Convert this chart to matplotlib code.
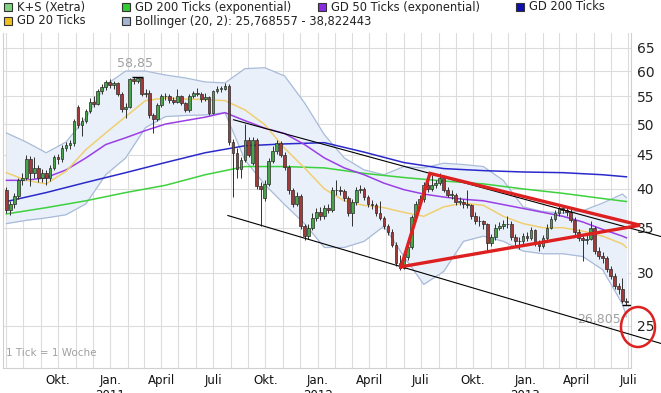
import numpy as np
import pandas as pd
import matplotlib
matplotlib.use("Agg")
import matplotlib.pyplot as plt
import matplotlib.dates as mdates
from matplotlib.patches import Rectangle, Ellipse
from matplotlib.ticker import NullLocator

# weekly candles (K+S, Xetra), first week and values
first_week = "2010-07-02"
first_open = 39.8
open_gaps = {18: 53.0, 62: 43.7, 65: 38.8}

closes = [37.2, 38.0, 39.0, 41.2, 41.6, 44.3, 42.3, 43.0, 41.6, 42.2,
          41.5, 43.0, 44.6, 44.3, 46.0, 46.5, 46.8, 50.5, 49.8, 50.5,
          52.3, 54.0, 53.6, 56.0, 56.8, 57.8, 57.2, 57.5, 55.5, 52.6,
          53.0, 58.3, 58.0, 58.6, 55.5, 55.7, 51.5, 50.8, 53.4, 55.0,
          55.0, 54.3, 54.0, 55.0, 53.7, 52.5, 55.0, 55.6, 55.5, 54.5,
          54.8, 52.0, 56.0, 56.5, 56.5, 57.0, 47.0, 45.2, 42.9, 44.2,
          47.4, 45.0, 47.4, 40.4, 40.0, 40.7, 44.0, 45.5, 46.8, 45.0,
          43.2, 39.8, 38.0, 39.0, 35.2, 34.0, 35.0, 36.2, 37.0, 36.5,
          37.5, 37.2, 39.8, 39.8, 39.7, 38.8, 36.8, 38.2, 39.8, 40.0,
          38.9, 38.0, 37.8, 36.8, 36.2, 35.2, 34.5, 33.0, 31.0, 30.5,
          31.6, 32.8, 36.3, 38.0, 38.6, 40.5, 40.0, 40.5, 40.8, 41.5,
          39.9, 39.2, 39.2, 38.3, 38.3, 38.0, 37.8, 36.5, 35.8, 35.8,
          35.4, 33.2, 33.9, 35.0, 35.2, 35.4, 35.5, 33.9, 33.4, 33.4,
          34.0, 33.8, 34.7, 33.2, 32.9, 33.8, 35.0, 36.1, 36.8, 37.5,
          37.2, 37.0, 36.0, 34.5, 33.8, 33.5, 33.7, 35.0, 32.3, 31.8,
          31.5, 30.4, 29.6, 28.6, 28.3, 27.2, 27.1]

highs = [40.2, 38.4, 39.4, 41.6, 42.3, 45.0, 44.8, 44.7, 43.4, 42.9,
         42.7, 43.4, 45.0, 45.1, 46.6, 47.0, 47.4, 50.9, 53.4, 51.2,
         52.7, 54.6, 55.1, 56.5, 57.3, 58.1, 58.4, 57.9, 57.8, 55.9,
         53.8, 58.6, 58.7, 58.85, 58.7, 56.4, 56.3, 52.0, 53.7, 55.4,
         55.6, 55.5, 54.8, 56.5, 55.3, 54.0, 55.4, 56.0, 56.6, 55.8,
         55.6, 55.1, 56.3, 57.0, 57.0, 57.5, 57.3, 47.5, 46.0, 44.7,
         50.0, 47.8, 47.9, 47.6, 41.0, 41.2, 44.5, 46.3, 47.4, 47.1,
         45.4, 43.5, 40.1, 39.6, 39.3, 35.5, 35.4, 36.8, 37.5, 37.6,
         37.9, 38.0, 40.2, 41.3, 40.4, 40.0, 39.0, 38.6, 40.2, 40.6,
         40.3, 39.2, 38.5, 38.1, 38.4, 36.5, 35.5, 34.8, 33.3, 31.9,
         32.0, 33.2, 36.6, 38.4, 39.2, 40.9, 41.0, 42.0, 41.3, 42.2,
         42.0, 40.3, 39.8, 39.5, 38.9, 38.6, 39.8, 38.0, 36.9, 36.4,
         36.0, 35.6, 34.3, 35.4, 35.7, 35.9, 36.5, 35.8, 34.3, 33.9,
         34.4, 34.5, 35.1, 34.9, 33.6, 34.1, 35.4, 36.5, 37.2, 38.0,
         37.9, 37.6, 37.3, 36.3, 34.8, 34.2, 34.1, 35.8, 35.2, 32.7,
         32.2, 31.8, 30.7, 29.9, 28.9, 29.4, 27.5]

lows = [36.8, 36.6, 37.4, 38.7, 40.6, 41.2, 40.4, 41.6, 41.0, 40.9,
        40.6, 41.1, 42.7, 43.6, 43.9, 45.6, 45.9, 46.4, 49.4, 48.0,
        50.1, 51.9, 53.0, 53.3, 55.5, 56.3, 56.7, 56.5, 55.0, 52.2,
        51.0, 52.8, 57.4, 57.5, 55.1, 54.8, 51.0, 48.5, 50.5, 53.0,
        54.3, 53.8, 53.5, 53.7, 53.3, 52.1, 52.2, 54.6, 55.0, 54.0,
        54.1, 51.6, 51.8, 55.6, 55.9, 56.2, 46.6, 38.9, 41.5, 41.6,
        43.9, 44.6, 43.4, 40.0, 35.2, 38.4, 40.4, 43.7, 45.1, 44.6,
        42.7, 39.3, 37.6, 37.7, 34.9, 33.5, 33.7, 34.7, 35.8, 36.0,
        36.1, 36.8, 37.0, 39.2, 39.2, 38.4, 36.4, 35.2, 37.9, 39.4,
        38.5, 37.6, 37.3, 36.4, 35.9, 34.9, 34.1, 32.7, 30.7, 30.3,
        30.4, 31.3, 32.5, 36.0, 37.5, 38.3, 39.6, 39.7, 40.1, 40.5,
        39.6, 38.9, 38.7, 37.9, 37.8, 37.5, 37.4, 36.1, 35.4, 35.2,
        34.9, 32.2, 32.9, 33.6, 34.7, 34.9, 35.0, 33.5, 32.9, 32.5,
        33.1, 33.4, 33.5, 32.9, 32.3, 32.6, 33.5, 34.8, 35.8, 36.5,
        36.8, 36.5, 35.7, 34.1, 33.4, 31.2, 33.1, 33.5, 32.0, 31.4,
        31.0, 30.1, 29.3, 28.3, 27.9, 27.0, 26.805]

# indicator lines, sampled every 5 / 10 weeks
idx5 = list(range(0, 157, 5)) + [156]
sma20 = [42.3, 41.2, 40.7, 42.5, 45.8, 48.5, 51.3, 54.2, 54.7, 54.5,
         54.4, 54.2, 52.5, 49.9, 46.0, 43.0, 40.0, 38.4, 37.8, 37.5,
         36.9, 36.4, 37.6, 38.1, 37.8, 36.4, 35.5, 35.0, 35.0, 34.6,
         34.0, 33.1, 32.7]
boll_upper = [48.5, 47.0, 45.3, 47.0, 51.1, 57.2, 60.0, 60.0, 59.2, 58.6,
              57.8, 57.6, 60.5, 60.7, 59.0, 53.8, 48.2, 44.5, 42.7, 42.0,
              43.2, 43.0, 43.7, 43.5, 43.2, 41.2, 37.6, 37.0, 36.8, 37.1,
              38.1, 39.3, 38.82]
boll_lower = [35.5, 35.9, 36.2, 36.6, 38.0, 42.0, 44.5, 49.4, 51.3, 51.5,
              51.6, 52.0, 44.2, 40.6, 37.9, 35.5, 32.7, 32.7, 33.4, 35.2,
              31.7, 28.8, 30.1, 33.4, 34.0, 33.4, 32.3, 32.0, 32.0, 31.7,
              30.3, 26.9, 25.77]
ema50 = [41.2, 41.2, 41.6, 42.7, 44.5, 46.6, 47.7, 48.9, 50.0, 50.6,
         51.2, 52.0, 50.6, 49.3, 48.4, 46.6, 44.5, 43.0, 42.0, 40.8,
         39.9, 39.3, 38.9, 38.6, 38.4, 37.9, 37.4, 36.9, 36.4, 35.7,
         34.8, 34.0, 33.8]
idx10 = list(range(0, 157, 10)) + [156]
sma200 = [38.3, 39.5, 40.9, 42.3, 43.8, 45.3, 46.4, 46.7, 46.9, 45.4,
          43.8, 42.9, 42.6, 42.4, 42.3, 42.0, 41.7]
ema200 = [36.7, 37.5, 38.4, 39.5, 40.5, 42.0, 43.2, 43.2, 43.0, 42.2,
          41.6, 41.1, 40.7, 40.0, 39.4, 38.7, 38.3]

# hand drawn analysis lines (date, price)
channel_top = [("2011-08-06", 50.75), ("2013-08-28", 33.95)]
channel_bottom = [("2011-07-27", 36.5), ("2013-08-28", 23.5)]
triangle = [("2012-05-27", 30.6), ("2012-07-17", 42.2), ("2013-07-22", 35.3)]

y_ticks = [25, 30, 35, 40, 45, 50, 55, 60, 65]
month_names = {1: "Jan.", 4: "April", 7: "Juli", 10: "Okt."}

W, H = 661, 393
fig = plt.figure(figsize=(W / 100, H / 100), dpi=100)
ax = fig.add_axes([3 / W, (H - 368) / H, (631 - 3) / W, (368 - 33) / H])

dates = pd.date_range(first_week, periods=len(closes), freq="7D")
x = mdates.date2num(dates)
opens = [first_open] + closes[:-1]
for k, v in open_gaps.items():
    opens[k] = v

# bollinger band + moving averages
x5 = x[idx5]
x10 = x[idx10]
ax.fill_between(x5, boll_lower, boll_upper, color="#e9f0fa", zorder=1, lw=0)
ax.plot(x5, boll_upper, color="#a8bbd8", lw=0.9, zorder=2)
ax.plot(x5, boll_lower, color="#a8bbd8", lw=0.9, zorder=2)
ax.plot(x10, ema200, color="#3dd13d", lw=1.1, zorder=3)
ax.plot(x10, sma200, color="#2a2acc", lw=1.1, zorder=3)
ax.plot(x5, ema50, color="#9a3ee6", lw=1.1, zorder=3)
ax.plot(x5, sma20, color="#f0cf70", lw=1.1, zorder=3)

# candles
for xi, o, h, l, c in zip(x, opens, highs, lows, closes):
    col = "#48a448" if c >= o else "#a33a3a"
    ax.vlines(xi, l, h, color="#303030", lw=0.7, zorder=4)
    ax.add_patch(Rectangle((xi - 2.4, min(o, c)), 4.8, max(abs(c - o), 0.08),
                           facecolor=col, edgecolor="#2a2a2a", lw=0.5, zorder=5))

# high / low markers
i_hi = int(np.argmax(highs))
i_lo = int(np.argmin(lows))
ax.hlines(highs[i_hi], x[i_hi] - 10, x[i_hi] + 10, color="black", lw=1, zorder=6)
ax.text(x[i_hi] - 4, 61.5, "58,85", color="#a0a0a0", fontsize=9, ha="center", va="center")
ax.hlines(lows[i_lo], x[i_lo] - 8, x[i_lo] + 8, color="black", lw=1, zorder=6)
ax.text(x[i_lo] - 10, 25.5, "26,805", color="#a0a0a0", fontsize=9, ha="right", va="center")

# channel and triangle
for line in (channel_top, channel_bottom):
    lx = mdates.date2num(pd.to_datetime([p[0] for p in line]))
    ax.plot(lx, [p[1] for p in line], color="black", lw=0.8, zorder=7, clip_on=False)
tx = list(mdates.date2num(pd.to_datetime([p[0] for p in triangle])))
ty = [p[1] for p in triangle]
ax.plot(tx + tx[:1], ty + ty[:1], color="#dd2020", lw=2.4, zorder=8,
        clip_on=False, solid_joinstyle="miter")

# axes styling
ax.set_yscale("log")
ax.set_ylim(21.6, 68.4)
ax.set_xlim(mdates.date2num(pd.Timestamp("2010-06-26")), mdates.date2num(pd.Timestamp("2013-07-06")))
ax.yaxis.set_minor_locator(NullLocator())
ax.set_yticks(y_ticks)
ax.set_yticklabels([str(t) for t in y_ticks])
ax.yaxis.tick_right()
ax.tick_params(axis="y", length=0, pad=4, labelsize=10, labelcolor="#222222")

months = pd.date_range("2010-07-01", "2013-07-01", freq="MS")
quarters = [m for m in months if m.month in month_names and m > pd.Timestamp("2010-07-01")]
ax.set_xticks(mdates.date2num(months), minor=True)
ax.set_xticks(mdates.date2num(quarters))
ax.set_xticklabels([month_names[m.month] + (f"\n{m.year}" if m.month == 1 else "") for m in quarters])
ax.tick_params(axis="x", which="both", length=0, pad=4, labelsize=8.5, labelcolor="#111111")
for lab in ax.get_xticklabels():
    lab.set_verticalalignment("top")

ax.grid(True, which="both", axis="x", color="#dcdcdc", lw=0.8, zorder=0)
ax.grid(True, which="major", axis="y", color="#dcdcdc", lw=0.8, zorder=0)
ax.set_axisbelow(True)
for side, sp in ax.spines.items():
    sp.set_color("#d0d0d0")
    sp.set_linewidth(0.8)
ax.spines["top"].set_visible(False)

ax.text(0.004, 0.045, "1 Tick = 1 Woche", transform=ax.transAxes, color="#a0a0a0",
        fontsize=7.5, ha="left", va="center")

# red circle round the 25 label
fig.add_artist(Ellipse((638 / W, 1 - 327 / H), 34 / W, 40 / H, transform=fig.transFigure,
                       fill=False, edgecolor="#dd2020", lw=1.8))

# legend
legend_items = [
    (4, 7, "#7fd27f", "K+S (Xetra)"),
    (122, 7, "#33cc33", "GD 200 Ticks (exponential)"),
    (318, 7, "#8a2be2", "GD 50 Ticks (exponential)"),
    (516, 7, "#1010b0", "GD 200 Ticks"),
    (4, 21, "#f0c020", "GD 20 Ticks"),
    (122, 21, "#a4b4d2", "Bollinger (20, 2): 25,768557 - 38,822443"),
]
for px, py, col, label in legend_items:
    fig.add_artist(Rectangle((px / W, 1 - (py + 4) / H), 8 / W, 8 / H, transform=fig.transFigure,
                             facecolor=col, edgecolor="#333333", lw=0.8))
    fig.text((px + 13) / W, 1 - py / H, label, fontsize=8.3, color="#222222", va="center", ha="left")

fig.savefig("out.png", dpi=100)
plt.close(fig)
